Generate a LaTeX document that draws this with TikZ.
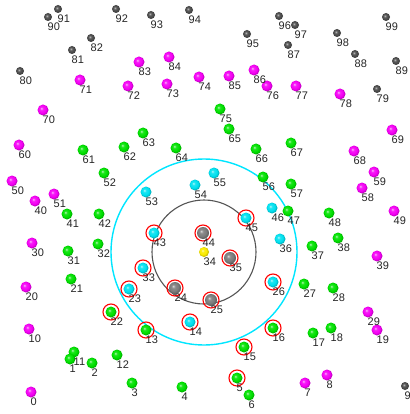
\documentclass[tikz,border=0pt]{standalone}
\usepackage{fontspec}
\setmainfont{Liberation Sans}
\definecolor{cmag}{RGB}{245,0,245}
\definecolor{cgreen}{RGB}{0,225,0}
\definecolor{ccyan}{RGB}{0,225,240}
\definecolor{cdark}{RGB}{75,75,75}
\definecolor{cmid}{RGB}{125,125,125}
\definecolor{cyel}{RGB}{250,235,0}
\definecolor{ringcyan}{RGB}{0,230,255}
\definecolor{ringgray}{RGB}{85,85,85}
\makeatletter
\pgfdeclareradialshading[tikz@ball]{softball}{\pgfqpoint{-8bp}{8bp}}{color(0bp)=(tikz@ball!30!white); color(8bp)=(tikz@ball!90!white); color(18bp)=(tikz@ball); color(25bp)=(tikz@ball!80!black); color(50bp)=(tikz@ball!40!black)}
\makeatother
\tikzset{
  ballnode/.style={circle, inner sep=0pt, minimum size=11pt, ball color=#1, shading=softball},
  smallball/.style={circle, inner sep=0pt, minimum size=8pt, ball color=cdark, shading=softball},
  lbl/.style={anchor=north west, inner sep=0pt, font=\fontsize{11}{11}\selectfont, text=black!85},
  redring/.style={draw=red, line width=1.1pt, circle, inner sep=0pt, minimum size=16pt},
}
\begin{document}
\begin{tikzpicture}[x=1pt,y=-1pt]
\fill[white] (0,0) rectangle (409,414);
\useasboundingbox (0,0) rectangle (409,414);
% big circles around point 34
\coordinate (ctr) at (204,252);
\draw[ringcyan, line width=1.4pt] (ctr) circle (93);
\draw[ringgray, line width=1.1pt] (ctr) circle (52);
% dark small balls
\foreach \n/\x/\y in {80/20/71,81/72/50,82/91/38,87/288/45,88/355/54,89/396/61,90/48/17,91/58/9,92/116/9,93/151/15,94/189/10,95/247/34,96/279/16,97/295/25,98/337/33,99/386/17,79/377/89,9/405/386}
  {\node[smallball] (p\n) at (\x,\y) {};}
% magenta
\foreach \n/\x/\y in {0/31/392,10/29/329,20/26/287,30/32/243,40/35/201,50/12/181,60/19/145,70/43/110,71/80/80,72/128/86,73/167/84,74/199/77,83/139/62,84/169/57,85/229/76,86/254/70,76/267/86,77/296/86,78/340/94,68/354/151,69/392/130,59/374/172,58/362/188,49/394/211,39/377/256,29/368/312,19/377/330,8/327/375,7/305/383,51/54/194}
  {\node[ballnode=cmag] (p\n) at (\x,\y) {};}
% green
\foreach \n/\x/\y in {11/74/352,1/70/359,2/92/363,12/117/355,3/132/383,4/182/387,5/237/378,6/249/395,13/146/330,15/244/347,16/273/328,17/313/333,18/331/328,21/71/279,22/111/312,27/304/284,28/333/288,31/68/251,32/98/244,37/312/246,38/338/238,41/67/214,42/99/214,47/288/211,48/329/213,52/104/173,56/263/177,57/291/184,61/83/150,62/124/147,63/143/133,64/176/148,65/229/129,66/256/149,67/291/143,75/220/109}
  {\node[ballnode=cgreen] (p\n) at (\x,\y) {};}
% cyan
\foreach \n/\x/\y in {14/190/322,23/129/289,26/273/282,33/143/268,36/280/239,43/154/233,45/246/218,46/272/208,53/146/192,54/195/185,55/214/173}
  {\node[ballnode=ccyan] (p\n) at (\x,\y) {};}
% medium gray
\foreach \n/\x/\y in {24/175/288,25/211/300,35/230/258,44/203/233}
  {\node[ballnode=cmid, minimum size=12pt] (p\n) at (\x,\y) {};}
% yellow centre
\node[ballnode=cyel, minimum size=10pt] (p34) at (ctr) {};
% red rings
\foreach \n in {5,13,14,15,16,22,23,24,25,26,33,35,43,44,45}
  {\node[redring] (r\n) at (p\n) {};}
% labels
\foreach \n in {0,...,99}
  {\node[lbl] (t\n) at ([xshift=-0.5pt,yshift=-5.5pt]p\n.center) {\n};}
\end{tikzpicture}
\end{document}
